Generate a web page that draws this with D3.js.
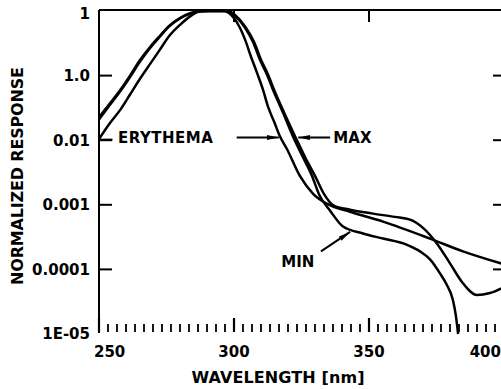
<!DOCTYPE html>
<html>
<head>
<meta charset="utf-8">
<script src="https://cdn.jsdelivr.net/npm/d3@7"></script>
<style>
    html, body { margin: 0; padding: 0; background: #fff; }
    text { font-family: 'DejaVu Sans', sans-serif; font-weight: bold; fill: #000; }
</style>
</head>
<body>
<div id="chart"></div>
<script>
const WIDTH = 501;
const HEIGHT = 389;
const PLOT = { left: 99, right: 504, top: 11, bottom: 334 };

// wavelength (nm) / normalized response
const ERY_NM = [250, 254, 258, 261.5, 265, 269, 272.5, 276, 280, 284, 287, 291, 296,
    299.3, 302.2, 304.1, 306.3, 308.5, 310.7, 312.6, 314.8, 317, 319.6,
    324.4, 329.3, 334.4, 343, 355.2, 372.6, 384.8, 400];
const ERY_VAL = [0.0104, 0.0183, 0.030, 0.051, 0.087, 0.153, 0.25, 0.41, 0.61, 0.84, 0.97, 1, 1,
    0.84, 0.55, 0.36, 0.196, 0.111, 0.061, 0.033, 0.0196, 0.0115, 0.0073,
    0.0028, 0.00148, 0.00104, 0.00078, 0.00055, 0.0003, 0.00019, 0.00012];

const MAX_NM = [250, 254, 258, 261.5, 265, 269, 272.5, 276, 280, 284, 287, 297.8,
    301.5, 304.4, 307.4, 310, 312.6, 314.8, 318.5, 322.6, 326.3, 330,
    333.3, 337, 343, 351.5, 359.6, 365.2, 370, 375.2, 380, 384.8, 390, 394.8, 400];
const MAX_VAL = [0.0226, 0.037, 0.061, 0.1, 0.17, 0.28, 0.41, 0.59, 0.78, 0.93, 1, 1,
    0.78, 0.55, 0.333, 0.176, 0.104, 0.061, 0.027, 0.0115, 0.0055, 0.0028,
    0.00148, 0.00097, 0.00084, 0.00073, 0.00065, 0.00059, 0.00044, 0.00025, 0.000124, 0.000061,
    0.00004, 0.000043, 0.000053];

const MIN_NM = [250, 254, 258, 261.5, 265, 269, 272.5, 276, 280, 284, 287, 297,
    301.1, 304.1, 307, 309.6, 312.2, 314.4, 318.1, 321.8, 325.5, 328.9,
    331.6, 335.6, 340.4, 347.8, 355.2, 364.1, 368.9, 372.6, 376.3, 378.9, 381.1, 382.2, 383];
const MIN_VAL = [0.021, 0.035, 0.058, 0.095, 0.16, 0.27, 0.40, 0.58, 0.77, 0.92, 1, 1,
    0.78, 0.55, 0.333, 0.176, 0.104, 0.061, 0.027, 0.0115, 0.0055, 0.0028,
    0.00142, 0.00081, 0.00046, 0.00036, 0.0003, 0.00024, 0.00019, 0.000143, 0.0000867, 0.0000568,
    0.0000333, 0.0000189, 0.00001];

const X_TICKS = [250, 300, 350, 400];
const X_TICK_LABELS = ['250', '300', '350', '400'];
const X_MINOR_STEP = 10 / 3;
const Y_TICKS = [1, 0.1, 0.01, 0.001, 0.0001, 0.00001];
const Y_TICK_LABELS = ['1', '1.0', '0.01', '0.001', '0.0001', '1E-05'];

const svg = d3.select('#chart')
    .append('svg')
    .attr('width', WIDTH)
    .attr('height', HEIGHT);

const x = d3.scaleLinear().domain([250, 400]).range([PLOT.left, PLOT.right]);
const y = d3.scaleLog().domain([1e-5, 1]).range([PLOT.bottom, PLOT.top]);

svg.append('defs').append('marker')
    .attr('id', 'arrow')
    .attr('viewBox', '0 0 12 6')
    .attr('refX', 12)
    .attr('refY', 3)
    .attr('markerWidth', 12)
    .attr('markerHeight', 6)
    .attr('markerUnits', 'userSpaceOnUse')
    .attr('orient', 'auto')
    .append('path')
    .attr('d', 'M0,0.5L12,3L0,5.5Z')
    .attr('fill', '#000');

// frame: left axis and top border
svg.append('line')
    .attr('x1', PLOT.left).attr('x2', PLOT.left)
    .attr('y1', PLOT.top - 1).attr('y2', PLOT.bottom - 1)
    .attr('stroke', '#000').attr('stroke-width', 2);
svg.append('line')
    .attr('x1', PLOT.left).attr('x2', WIDTH)
    .attr('y1', PLOT.top - 1).attr('y2', PLOT.top - 1)
    .attr('stroke', '#000').attr('stroke-width', 2);

// left and right y ticks
const innerTicks = Y_TICKS.filter(v => v < 1 && v > 1e-5);
svg.append('g').selectAll('line')
    .data(innerTicks)
    .join('line')
    .attr('x1', PLOT.left).attr('x2', PLOT.left + 13)
    .attr('y1', d => y(d)).attr('y2', d => y(d))
    .attr('stroke', '#000').attr('stroke-width', 2);
svg.append('g').selectAll('line')
    .data(innerTicks)
    .join('line')
    .attr('x1', WIDTH - 8).attr('x2', WIDTH)
    .attr('y1', d => y(d)).attr('y2', d => y(d))
    .attr('stroke', '#000').attr('stroke-width', 2);

svg.append('g').selectAll('text')
    .data(Y_TICKS)
    .join('text')
    .attr('x', 90)
    .attr('y', d => y(d))
    .attr('dy', (d, i) => i === 0 ? '0.55em' : '0.36em')
    .attr('text-anchor', 'end')
    .style('font-size', '15px')
    .text((d, i) => Y_TICK_LABELS[i]);

// top ticks
svg.append('g').selectAll('line')
    .data([300, 350])
    .join('line')
    .attr('x1', d => x(d)).attr('x2', d => x(d))
    .attr('y1', PLOT.top - 1).attr('y2', PLOT.top + 11)
    .attr('stroke', '#000').attr('stroke-width', 2);

// bottom ticks, no axis line
const minor = d3.range(0, 46).map(i => 250 + i * X_MINOR_STEP);
svg.append('g').selectAll('line')
    .data(minor)
    .join('line')
    .attr('x1', d => x(d)).attr('x2', d => x(d))
    .attr('y1', (d, i) => i % 15 === 0 ? PLOT.bottom - 16 : PLOT.bottom - 10)
    .attr('y2', PLOT.bottom - 2)
    .attr('stroke', '#000')
    .attr('stroke-width', (d, i) => i % 15 === 0 ? 2.2 : 1.8);

svg.append('g').selectAll('text')
    .data(X_TICKS)
    .join('text')
    .attr('x', (d, i) => i === 0 ? x(d) - 5 : (i === X_TICKS.length - 1 ? WIDTH : x(d)))
    .attr('y', 357)
    .attr('text-anchor', (d, i) => i === 0 ? 'start' : (i === X_TICKS.length - 1 ? 'end' : 'middle'))
    .style('font-size', '15px')
    .text((d, i) => X_TICK_LABELS[i]);

// axis titles
svg.append('text')
    .attr('x', 278)
    .attr('y', 383)
    .attr('text-anchor', 'middle')
    .attr('textLength', 173)
    .style('font-size', '16px')
    .text('WAVELENGTH [nm]');

svg.append('text')
    .attr('transform', 'translate(23,176) rotate(-90)')
    .attr('text-anchor', 'middle')
    .attr('textLength', 218)
    .style('font-size', '16px')
    .text('NORMALIZED RESPONSE');

// curves
const line = d3.line()
    .x(d => x(d[0]))
    .y(d => y(d[1]))
    .curve(d3.curveMonotoneX);

function drawCurve(nm, val) {
    svg.append('path')
        .datum(nm.map((n, i) => [n, val[i]]))
        .attr('fill', 'none')
        .attr('stroke', '#000')
        .attr('stroke-width', 2.5)
        .attr('stroke-linejoin', 'round')
        .attr('d', line);
}

drawCurve(ERY_NM, ERY_VAL);
drawCurve(MAX_NM, MAX_VAL);
drawCurve(MIN_NM, MIN_VAL);

// annotations
function leader(n1, v1, n2, v2, arrow) {
    svg.append('line')
        .attr('x1', x(n1)).attr('y1', y(v1))
        .attr('x2', x(n2)).attr('y2', y(v2))
        .attr('stroke', '#000').attr('stroke-width', 2)
        .attr('marker-end', arrow ? 'url(#arrow)' : null);
}

leader(250.6, 0.0102, 255, 0.0102, false);
svg.append('text')
    .attr('x', x(257))
    .attr('y', y(0.011))
    .attr('dy', '0.36em')
    .attr('textLength', 95)
    .style('font-size', '15px')
    .text('ERYTHEMA');

leader(301, 0.011, 316.6, 0.011, true);
leader(335.6, 0.011, 323.8, 0.011, true);
svg.append('text')
    .attr('x', x(336.8))
    .attr('y', y(0.011))
    .attr('dy', '0.36em')
    .style('font-size', '15px')
    .text('MAX');

leader(332.2, 0.00019, 343, 0.00038, true);
svg.append('text')
    .attr('x', x(317.5))
    .attr('y', y(0.00013))
    .attr('dy', '0.36em')
    .style('font-size', '15px')
    .text('MIN');
</script>
</body>
</html>
